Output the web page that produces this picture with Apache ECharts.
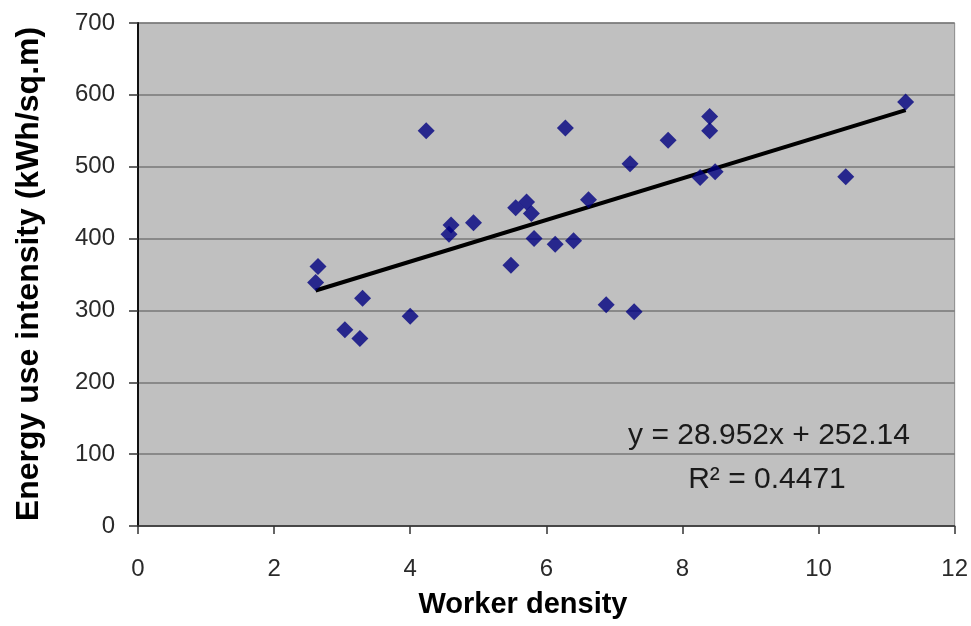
<!DOCTYPE html>
<html>
<head>
<meta charset="utf-8">
<script src="https://cdn.jsdelivr.net/npm/echarts@6/dist/echarts.min.js"></script>
<style>
html,body{margin:0;padding:0;background:#fff;}
#chart{width:971px;height:626px;}
</style>
</head>
<body>
<div id="chart"></div>
<script>
// Data
var workerDensity = [2.61, 2.645, 3.04, 3.26, 3.30, 4.00, 4.235, 4.57, 4.60, 4.93,
  5.48, 5.55, 5.71, 5.78, 5.82, 6.13, 6.28, 6.40, 6.62, 6.88,
  7.23, 7.29, 7.79, 8.26, 8.40, 8.40, 8.48, 10.40, 11.28];
var energyIntensity = [339, 361, 273, 261, 317, 292, 550, 406, 419, 422,
  363, 443, 451, 435, 400, 392, 554, 397, 454, 308,
  504, 298, 537, 485, 550, 570, 493, 486, 590];
var xTicks = [0, 2, 4, 6, 8, 10, 12];
var yTicks = [0, 100, 200, 300, 400, 500, 600, 700];
var trendSlope = 28.952;
var trendIntercept = 252.14;
var trendR2 = 0.4471;
var xTitle = 'Worker density';
var yTitle = 'Energy use intensity (kWh/sq.m)';

var points = workerDensity.map(function (x, i) { return [x, energyIntensity[i]]; });
var xMin = Math.min.apply(null, workerDensity);
var xMax = Math.max.apply(null, workerDensity);
var trend = [[xMin, trendSlope * xMin + trendIntercept], [xMax, trendSlope * xMax + trendIntercept]];

var chart = echarts.init(document.getElementById('chart'));
var font = 'Liberation Sans, Arial, sans-serif';
chart.setOption({
  animation: false,
  backgroundColor: '#ffffff',
  grid: {
    left: 138, right: 15, top: 23, bottom: 100,
    show: true, backgroundColor: '#c0c0c0', borderColor: '#8a8a8a', borderWidth: 1
  },
  xAxis: {
    type: 'value', min: xTicks[0], max: xTicks[xTicks.length - 1], interval: 2,
    axisLine: { show: true, onZero: false, lineStyle: { color: '#333', width: 1.5 } },
    axisTick: { show: true, inside: false, length: 8, lineStyle: { color: '#333', width: 1.5 } },
    axisLabel: { margin: 31, fontSize: 24, color: '#2a2a2a', fontFamily: font },
    splitLine: { show: false }
  },
  yAxis: {
    type: 'value', min: yTicks[0], max: yTicks[yTicks.length - 1], interval: 100,
    axisLine: { show: true, onZero: false, lineStyle: { color: '#111', width: 2 } },
    axisTick: { show: true, inside: false, length: 9, lineStyle: { color: '#333', width: 1.5 } },
    axisLabel: { margin: 23, fontSize: 24, color: '#2a2a2a', fontFamily: font },
    splitLine: { show: true, lineStyle: { color: '#777', width: 1.5 } }
  },
  series: [
    {
      type: 'line', data: trend, symbol: 'none', silent: true,
      lineStyle: { color: '#000', width: 4 }, z: 2
    },
    {
      type: 'scatter', data: points, symbol: 'diamond', symbolSize: 17,
      itemStyle: { color: '#000080' }, z: 3
    }
  ],
  graphic: [
    {
      type: 'text', x: 29, y: 274, rotation: Math.PI / 2,
      style: { text: yTitle, font: 'bold 32px ' + font, fill: '#000', align: 'center', verticalAlign: 'middle' }
    },
    {
      type: 'text', x: 523, y: 605,
      style: { text: xTitle, font: 'bold 29px ' + font, fill: '#000', align: 'center', verticalAlign: 'middle' }
    },
    {
      type: 'text', x: 769, y: 436,
      style: { text: 'y = ' + trendSlope + 'x + ' + trendIntercept, font: '30px ' + font, fill: '#1a1a1a', align: 'center', verticalAlign: 'middle' }
    },
    {
      type: 'text', x: 767, y: 480,
      style: { text: 'R\u00b2 = ' + trendR2, font: '30px ' + font, fill: '#1a1a1a', align: 'center', verticalAlign: 'middle' }
    }
  ]
});
</script>
</body>
</html>
